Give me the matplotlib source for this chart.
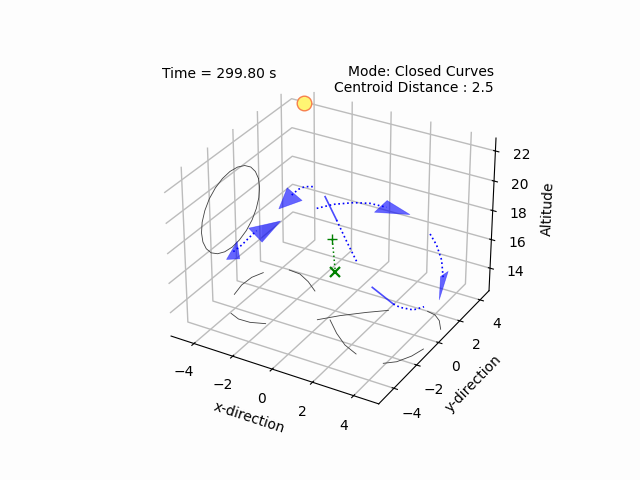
import matplotlib
matplotlib.use('Agg')
import matplotlib.pyplot as plt
from mpl_toolkits.mplot3d.art3d import Poly3DCollection

# circle on the x wall
wall_x = -5.2
wall_y = [1.97, 1.73, 1.36, 0.87, 0.29, -0.32, -0.93, -1.5, -2.0, -2.37, -2.61, -2.69,
          -2.61, -2.37, -2.0, -1.5, -0.93, -0.32, 0.29, 0.87, 1.36, 1.73, 1.97, 2.05, 1.97]
wall_z = [18.29, 18.92, 19.46, 19.87, 20.13, 20.22, 20.13, 19.87, 19.46, 18.92, 18.29, 17.62,
          16.95, 16.32, 15.78, 15.37, 15.11, 15.02, 15.11, 15.37, 15.78, 16.32, 16.95, 17.62, 18.29]

# arcs on the floor
floor_z = 12.4
arcs_x = [[-4.67, -4.82, -4.78, -4.54], [-3.62, -3.01, -2.33, -1.65], [-3.93, -3.39, -2.80, -2.14],
          [-0.32, 0.38, 1.28, 2.04], [0.18, 0.98, 1.76, 2.53], [3.90, 4.34, 4.69, 4.87],
          [3.60, 4.03, 4.41, 4.79]]
arcs_y = [[-1.05, -0.21, 0.58, 1.19], [1.98, 1.92, 1.53, 0.99], [-2.46, -2.69, -2.67, -2.42],
          [-1.02, -0.24, 0.58, 1.20], [-0.76, -1.55, -2.17, -2.54], [-2.59, -2.20, -1.50, -0.77],
          [1.99, 1.89, 1.57, 0.98]]

# drones (triangle corners)
tri_x = [[-3.85, -2.66, -3.16], [-2.52, -3.40, -2.25], [-3.22, -2.79, -2.33],
         [0.65, 2.14, 0.68], [4.20, 4.96, 4.11]]
tri_y = [[2.22, 1.55, 0.39], [-0.50, -1.71, -2.44], [-2.92, -4.41, -4.09],
         [3.42, 2.81, 2.22], [2.65, 0.37, 2.10]]
tri_z = [18, 18, 18, 18, 15]
# darker part of the second drone
fold_x = [-2.98, -2.52, -2.25]
fold_y = [-1.27, -0.50, -2.44]
fold_z = 18

# trails
trail_x = [[-3.28, -3.30, -3.17, -2.84], [-2.85, -2.84, -2.91, -2.94],
           [-1.68, -1.22, -0.52, 0.15, 0.97], [-0.39, 0.94, 2.15],
           [2.00, 2.72, 3.53, 4.39], [3.44, 3.82, 4.41, 4.69]]
trail_y = [[1.72, 2.32, 2.68, 2.87], [-3.75, -3.10, -2.33, -1.75],
           [1.23, 1.91, 2.48, 2.79, 2.84], [0.77, -0.63, -1.87],
           [5.13, 4.40, 3.35, 1.88], [-0.93, -1.02, -0.92, -0.47]]
trail_z = [18, 18, 18, 18, 15, 15]
head_x = [[-1.90, -0.39], [1.98, 3.44]]
head_y = [[2.33, 0.77], [-0.19, -0.93]]
head_z = [18, 15]

# centroid
centroid_x = [-0.99, 0.56]
centroid_y = [1.42, -0.95]
centroid_z = [16, 16]

sun = (-4.48, 4.80, 22)

plt.rcParams['grid.linewidth'] = 1.0
plt.rcParams['grid.color'] = '#bcbcbc'
fig = plt.figure(figsize=(6.4, 4.8), dpi=100, facecolor='#fdfdfd')
ax = fig.add_subplot(projection='3d', facecolor='#fdfdfd')
ax.set_xlim(-5.2, 5.2)
ax.set_ylim(-5.3, 4.9)
ax.set_zlim(12.4, 22.85)

ax.plot([wall_x] * len(wall_y), wall_y, wall_z, color='0.25', lw=0.6)
for x, y in zip(arcs_x, arcs_y):
    ax.plot(x, y, [floor_z] * len(x), color='0.25', lw=0.6)

for x, y, z in zip(trail_x, trail_y, trail_z):
    ax.plot(x, y, [z] * len(x), color='b', ls=':', lw=1.2)
for x, y, z in zip(head_x, head_y, head_z):
    ax.plot(x, y, [z] * len(x), color='b', alpha=0.7, lw=1.2)

for x, y, z in zip(tri_x, tri_y, tri_z):
    corners = [list(zip(x, y, [z] * 3))]
    ax.add_collection3d(Poly3DCollection(corners, facecolor=(0, 0, 1, 0.6), edgecolor=(0, 0, 1, 0.4), lw=0.5))
ax.add_collection3d(Poly3DCollection([list(zip(fold_x, fold_y, [fold_z] * 3))], facecolor=(0, 0, 0.8, 0.15), lw=0))

ax.plot(centroid_x, centroid_y, centroid_z, color='g', ls=':', lw=1.1)
ax.plot(centroid_x[:1], centroid_y[:1], centroid_z[:1], color='g', marker='+', ms=7, mew=1)
ax.plot(centroid_x[1:], centroid_y[1:], centroid_z[1:], color='g', marker='x', ms=7, mew=1.6)
ax.plot([sun[0]], [sun[1]], [sun[2]], marker='o', ms=10.5, mfc=(1, 0.96, 0.45), mec=(0.97, 0.5, 0.3), mew=1)

ax.set_xticks([-4, -2, 0, 2, 4])
ax.set_yticks([-4, -2, 0, 2, 4])
ax.set_zticks([14, 16, 18, 20, 22])
ax.set_xlabel('x-direction')
ax.set_ylabel('y-direction')
ax.set_zlabel('Altitude')
for a in (ax.xaxis, ax.yaxis, ax.zaxis):
    a.set_pane_color((1, 1, 1, 0))
    a.pane.set_edgecolor((.93, .93, .93))
fig.text(0.253, 0.838, 'Time = 299.80 s')
fig.text(0.772, 0.808, 'Mode: Closed Curves\nCentroid Distance : 2.5', ha='right')
fig.savefig('out.png', dpi=100)
